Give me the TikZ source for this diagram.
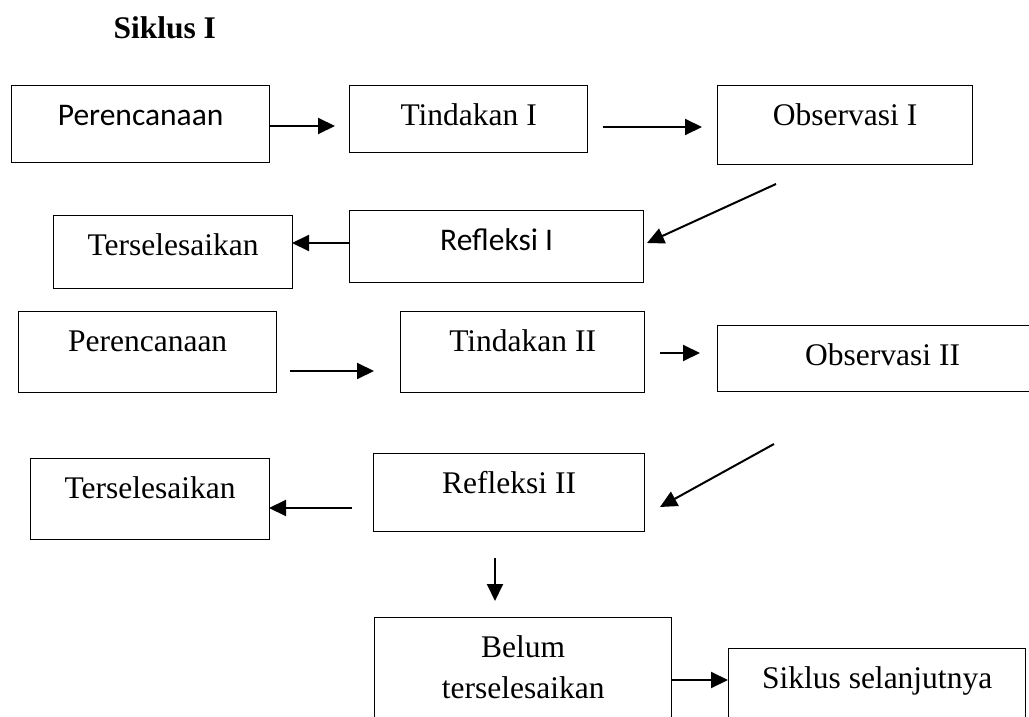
\documentclass[tikz,border=0pt]{standalone}
\usepackage{fontspec}
\setmainfont{Liberation Serif}
\newfontfamily\calibri{Carlito}
\usetikzlibrary{arrows.meta}
\newcommand\boxfont{\fontsize{31.5}{41}\selectfont}
\begin{document}
\begin{tikzpicture}[x=1pt, y=-1pt,
        every node/.style = {font=\boxfont},
        box/.style = {draw, line width=1.3pt, anchor=north west, inner sep=0pt,
            align=center, text height=40pt},
        arr/.style = {line width=2pt, -{Triangle[length=17pt,width=16pt]}}]
    \clip (0,0) rectangle (1029,717);
    \node[font=\boxfont\bfseries, anchor=base west] (title) at (110,39) {Siklus I};
    % siklus I
    \node[box, font=\boxfont\calibri, minimum width=258pt, text depth=37pt] (per1) at (11,85) {Perencanaan};
    \node[box, minimum width=238pt, text depth=27pt] (tin1) at (349,85) {Tindakan I};
    \node[box, minimum width=255pt, text depth=39pt] (obs1) at (717,85) {Observasi I};
    \node[box, minimum width=239pt, text depth=33pt] (ter1) at (53,215) {Terselesaikan};
    \node[box, font=\boxfont\calibri, minimum width=294pt, text depth=32pt] (ref1) at (349,210) {Refleksi I};
    % siklus II
    \node[box, minimum width=258pt, text depth=41pt] (per2) at (18,311) {Perencanaan};
    \node[box, minimum width=244pt, text depth=41pt] (tin2) at (400,311) {Tindakan II};
    \node[box, minimum width=330pt, text depth=26pt] (obs2) at (717,325) {Observasi II};
    \node[box, minimum width=239pt, text depth=41pt] (ter2) at (30,458) {Terselesaikan};
    \node[box, minimum width=271pt, text depth=38pt] (ref2) at (373,453) {Refleksi II};
    \node[box, minimum width=297pt, text height=81pt, text depth=49pt] (belum) at (374,617) {Belum\\terselesaikan};
    \node[box, minimum width=297pt, text depth=60pt] (next) at (728,648) {Siklus selanjutnya};
    % free arrow ends
    \coordinate (p1r) at (269,126);
    \coordinate (t1l) at (335,126);
    \coordinate (t1r) at (603,127);
    \coordinate (o1l) at (702,127);
    \coordinate (o1b) at (776,184);
    \coordinate (r1r) at (647,243);
    \coordinate (r1l) at (349,243);
    \coordinate (e1r) at (292,243);
    \coordinate (p2r) at (290,371);
    \coordinate (t2l) at (374,371);
    \coordinate (t2r) at (660,353);
    \coordinate (o2l) at (700,353);
    \coordinate (o2b) at (774,444);
    \coordinate (r2r) at (660,507);
    \coordinate (r2l) at (352,508);
    \coordinate (e2r) at (269,508);
    \coordinate (r2b) at (495,558);
    \coordinate (bt) at (495,601);
    \coordinate (br) at (671,680);
    \coordinate (nl) at (728,680);
    \draw[arr] (p1r) -- (t1l);
    \draw[arr] (t1r) -- (o1l);
    \draw[arr] (o1b) -- (r1r);
    \draw[arr] (r1l) -- (e1r);
    \draw[arr] (p2r) -- (t2l);
    \draw[arr] (t2r) -- (o2l);
    \draw[arr] (o2b) -- (r2r);
    \draw[arr] (r2l) -- (e2r);
    \draw[arr] (r2b) -- (bt);
    \draw[arr] (br) -- (nl);
\end{tikzpicture}
\end{document}
